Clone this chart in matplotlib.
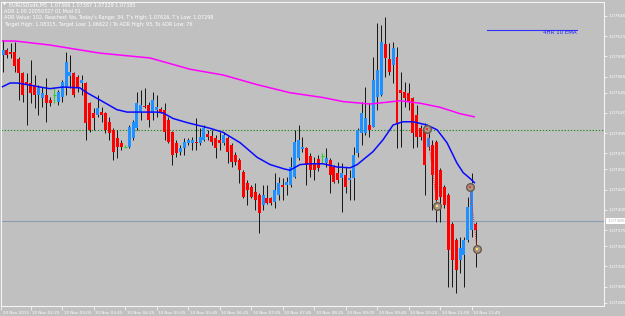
import matplotlib
matplotlib.use("Agg")
import matplotlib.pyplot as plt
from matplotlib.transforms import ScaledTranslation, blended_transform_factory

# ---------------- data (EURUSD M5) ----------------
opens = [1.07592, 1.07598, 1.07595, 1.07595, 1.07587, 1.07569, 1.07558, 1.07557, 1.07555, 1.07542,
         1.07538, 1.07542, 1.07536, 1.07542, 1.07534, 1.07540, 1.07552, 1.07566, 1.07569, 1.07564,
         1.07557, 1.07557, 1.07532, 1.07520, 1.07517, 1.07521, 1.07520, 1.07509, 1.07499, 1.07489,
         1.07483, 1.07478, 1.07478, 1.07489, 1.07501, 1.07521, 1.07529, 1.07530, 1.07520, 1.07524,
         1.07525, 1.07524, 1.07511, 1.07496, 1.07483, 1.07472, 1.07477, 1.07483, 1.07483, 1.07484,
         1.07483, 1.07486, 1.07494, 1.07491, 1.07489, 1.07486, 1.07483, 1.07489, 1.07480, 1.07468,
         1.07462, 1.07447, 1.07433, 1.07428, 1.07422, 1.07418, 1.07406, 1.07415, 1.07415, 1.07410,
         1.07418, 1.07431, 1.07431, 1.07431, 1.07441, 1.07464, 1.07475, 1.07477, 1.07467, 1.07458,
         1.07463, 1.07467, 1.07458, 1.07462, 1.07453, 1.07446, 1.07439, 1.07443, 1.07437, 1.07439,
         1.07470, 1.07495, 1.07495, 1.07505, 1.07503, 1.07540, 1.07542, 1.07605, 1.07587, 1.07579,
         1.07589, 1.07548, 1.07546, 1.07545, 1.07538, 1.07517, 1.07501, 1.07501, 1.07478, 1.07480,
         1.07484, 1.07449, 1.07428, 1.07418, 1.07383, 1.07363, 1.07338, 1.07344, 1.07363, 1.07375,
         1.07383]
highs = [1.07610, 1.07600, 1.07607, 1.07608, 1.07589, 1.07571, 1.07569, 1.07586, 1.07567, 1.07555,
         1.07552, 1.07563, 1.07540, 1.07552, 1.07548, 1.07561, 1.07595, 1.07592, 1.07571, 1.07567,
         1.07567, 1.07558, 1.07534, 1.07526, 1.07542, 1.07527, 1.07521, 1.07515, 1.07501, 1.07499,
         1.07486, 1.07480, 1.07505, 1.07511, 1.07546, 1.07548, 1.07551, 1.07534, 1.07546, 1.07542,
         1.07527, 1.07532, 1.07515, 1.07497, 1.07486, 1.07480, 1.07489, 1.07489, 1.07490, 1.07514,
         1.07501, 1.07505, 1.07499, 1.07499, 1.07493, 1.07496, 1.07496, 1.07491, 1.07483, 1.07472,
         1.07464, 1.07449, 1.07437, 1.07431, 1.07433, 1.07421, 1.07431, 1.07431, 1.07416, 1.07446,
         1.07441, 1.07439, 1.07441, 1.07465, 1.07499, 1.07505, 1.07490, 1.07478, 1.07470, 1.07465,
         1.07468, 1.07470, 1.07477, 1.07464, 1.07456, 1.07459, 1.07458, 1.07453, 1.07449, 1.07478,
         1.07501, 1.07534, 1.07552, 1.07532, 1.07589, 1.07631, 1.07629, 1.07639, 1.07607, 1.07608,
         1.07602, 1.07571, 1.07558, 1.07557, 1.07540, 1.07530, 1.07505, 1.07508, 1.07495, 1.07486,
         1.07486, 1.07452, 1.07431, 1.07421, 1.07385, 1.07365, 1.07366, 1.07366, 1.07416, 1.07446,
         1.07385]
lows = [1.07571, 1.07588, 1.07588, 1.07571, 1.07536, 1.07534, 1.07505, 1.07532, 1.07526, 1.07517,
        1.07527, 1.07509, 1.07529, 1.07532, 1.07530, 1.07534, 1.07542, 1.07551, 1.07540, 1.07546,
        1.07542, 1.07486, 1.07496, 1.07499, 1.07515, 1.07509, 1.07495, 1.07486, 1.07462, 1.07464,
        1.07474, 1.07477, 1.07477, 1.07486, 1.07499, 1.07511, 1.07526, 1.07503, 1.07511, 1.07515,
        1.07520, 1.07486, 1.07483, 1.07456, 1.07465, 1.07468, 1.07468, 1.07480, 1.07474, 1.07474,
        1.07480, 1.07485, 1.07486, 1.07480, 1.07464, 1.07474, 1.07480, 1.07458, 1.07453, 1.07456,
        1.07433, 1.07415, 1.07406, 1.07415, 1.07400, 1.07371, 1.07400, 1.07407, 1.07406, 1.07402,
        1.07412, 1.07412, 1.07418, 1.07428, 1.07440, 1.07462, 1.07472, 1.07431, 1.07441, 1.07437,
        1.07448, 1.07458, 1.07453, 1.07421, 1.07433, 1.07433, 1.07397, 1.07421, 1.07412, 1.07412,
        1.07465, 1.07480, 1.07493, 1.07490, 1.07502, 1.07524, 1.07541, 1.07564, 1.07567, 1.07557,
        1.07477, 1.07478, 1.07527, 1.07524, 1.07477, 1.07478, 1.07486, 1.07418, 1.07474, 1.07400,
        1.07385, 1.07385, 1.07402, 1.07304, 1.07304, 1.07297, 1.07322, 1.07304, 1.07360, 1.07366,
        1.07329]
closes = [1.07598, 1.07592, 1.07593, 1.07578, 1.07569, 1.07542, 1.07555, 1.07545, 1.07542, 1.07551,
          1.07545, 1.07532, 1.07532, 1.07542, 1.07546, 1.07558, 1.07583, 1.07571, 1.07542, 1.07551,
          1.07561, 1.07508, 1.07499, 1.07514, 1.07526, 1.07517, 1.07499, 1.07495, 1.07472, 1.07478,
          1.07478, 1.07478, 1.07503, 1.07509, 1.07532, 1.07530, 1.07527, 1.07511, 1.07536, 1.07527,
          1.07521, 1.07496, 1.07484, 1.07468, 1.07470, 1.07477, 1.07484, 1.07486, 1.07486, 1.07483,
          1.07490, 1.07501, 1.07490, 1.07484, 1.07477, 1.07483, 1.07493, 1.07472, 1.07459, 1.07459,
          1.07449, 1.07416, 1.07425, 1.07416, 1.07412, 1.07396, 1.07418, 1.07408, 1.07408, 1.07425,
          1.07433, 1.07428, 1.07435, 1.07453, 1.07484, 1.07486, 1.07478, 1.07456, 1.07449, 1.07449,
          1.07452, 1.07467, 1.07464, 1.07443, 1.07435, 1.07437, 1.07446, 1.07428, 1.07439, 1.07468,
          1.07499, 1.07520, 1.07514, 1.07499, 1.07561, 1.07573, 1.07608, 1.07588, 1.07571, 1.07600,
          1.07508, 1.07545, 1.07538, 1.07534, 1.07495, 1.07490, 1.07490, 1.07456, 1.07489, 1.07443,
          1.07412, 1.07416, 1.07406, 1.07350, 1.07338, 1.07326, 1.07353, 1.07363, 1.07403, 1.07433,
          1.07375]

# 4HR 10 EMA (blue) sampled along the line: bar position, price
ema_bars = [-0.3, 1.8, 3.6, 6.1, 9.4, 11.9, 15.2, 19.5, 21.3, 24.6, 28.9, 31.5, 39.1, 40.6, 43.2,
            46.7, 50.0, 52.5, 55.8, 60.2, 64.5, 67.8, 71.1, 72.8, 75.4, 77.9, 81.2, 84.8, 88.1,
            89.9, 91.4, 93.9, 96.5, 99.0, 101.5, 104.1, 107.6, 110.2, 112.7, 115.2, 116.8, 118.5, 119.8]
ema_vals = [1.07552, 1.07557, 1.07557, 1.07555, 1.07552, 1.07550, 1.07552, 1.07551, 1.07545, 1.07536,
            1.07524, 1.07521, 1.07521, 1.07520, 1.07513, 1.07508, 1.07504, 1.07501, 1.07496, 1.07483,
            1.07465, 1.07456, 1.07451, 1.07449, 1.07456, 1.07457, 1.07457, 1.07453, 1.07452, 1.07456,
            1.07462, 1.07472, 1.07487, 1.07505, 1.07509, 1.07509, 1.07505, 1.07499, 1.07483, 1.07458,
            1.07446, 1.07439, 1.07433]

# slow moving average (magenta)
ma_bars = [-0.3, 3.1, 11.9, 24.6, 37.3, 47.5, 55.8, 64.5, 72.8, 81.2, 86.3, 93.2, 100.8, 105.8,
           110.9, 116.0, 119.8]
ma_vals = [1.07609, 1.07609, 1.07604, 1.07594, 1.07588, 1.07574, 1.07567, 1.07555, 1.07545, 1.07539,
           1.07534, 1.07531, 1.07535, 1.07532, 1.07527, 1.07519, 1.07515]

level_green = 1.07499
bid_price = 1.07386
bid_label = "1.07385"

# trades (open -> close)
trade_open_bars = [107.6, 118.5]
trade_open_prices = [1.07500, 1.07428]
trade_close_bars = [110.2, 120.3]
trade_close_prices = [1.07405, 1.07352]

time_label_bars = [-0.4, 7, 15, 23, 31, 39, 47, 55, 63, 71, 79, 87, 95, 103, 111, 119]
time_labels = ["10 Nov 2015", "10 Nov 02:25", "10 Nov 03:05", "10 Nov 03:45", "10 Nov 04:25",
               "10 Nov 05:05", "10 Nov 05:45", "10 Nov 06:25", "10 Nov 07:05", "10 Nov 07:45",
               "10 Nov 08:25", "10 Nov 09:05", "10 Nov 09:45", "10 Nov 10:25", "10 Nov 11:05",
               "10 Nov 11:45"]
price_ticks = [1.07640, 1.07615, 1.07590, 1.07565, 1.07545, 1.07520, 1.07495, 1.07470, 1.07450,
               1.07425, 1.07400, 1.07375, 1.07355, 1.07330, 1.07305, 1.07285]

header_lines = [
    "EURUSDxdk,M5  1.07366 1.07387 1.07329 1.07385",
    "ADR 1.00 20050327 01 Mod 01",
    "ADR Value: 102, Reached: No, Today's Range: 34, T's High: 1.07626, T's Low: 1.07298",
    "Target High: 1.08315, Target Low: 1.06622 / To ADR High: 93, To ADR Low: 76",
]
legend_text = "4HR 10 EMA"

# ---------------- drawing ----------------
W, H = 625, 316
BG = "#c0c0c0"
BULL = "#1e90ff"
BEAR = "#ff0000"
DOJI = "#32cd32"
plt.rcParams["font.family"] = ["DejaVu Sans"]

fig = plt.figure(figsize=(W / 100, H / 100), dpi=100, facecolor=BG)
ax = fig.add_axes([1 / W, 10 / H, 603 / W, 304 / H], facecolor=BG)
ax.set_xlim(-0.51, 152.54)
ax.set_ylim(1.072809, 1.076573)

# reference lines
ax.axhline(level_green, color="#1f8a1f", lw=0.8, ls=(0, (1.2, 1.6)), zorder=1)
ax.axhline(bid_price, color="#8d9db0", lw=0.8, zorder=1)

# candles
for i, (o, h, l, c) in enumerate(zip(opens, highs, lows, closes)):
    if o == c:
        ax.vlines(i, l, h, color=DOJI, lw=0.8, zorder=3)
        ax.hlines(o, i - 0.38, i + 0.38, color=DOJI, lw=0.8, zorder=3)
        continue
    ax.vlines(i, l, h, color="#151515", lw=0.7, zorder=2)
    col = BULL if c > o else BEAR
    bottom = min(o, c)
    height = max(abs(c - o), 0.000012)
    ax.bar(i, height, bottom=bottom, width=0.76, color=col, linewidth=0, zorder=3)

# indicator lines
ax.plot(ma_bars, ma_vals, color="#ff00ff", lw=1.1, zorder=4, solid_capstyle="butt")
ax.plot(ema_bars, ema_vals, color="#0a0aff", lw=1.1, zorder=4, solid_capstyle="butt")

# trades
for ob, op, cb, cp in zip(trade_open_bars, trade_open_prices, trade_close_bars, trade_close_prices):
    ax.plot([ob, cb], [op, cp], color="#ff2020", lw=0.7, ls=(0, (1, 1.2)), zorder=5)
    ax.scatter([ob, cb], [op, cp], s=30, facecolor="#a89686", edgecolor="#6a5a4c",
               linewidth=1.0, zorder=6)
    ax.scatter([ob], [op], s=3, marker="s", color="#ff3030", zorder=7, linewidth=0)
    ax.scatter([cb], [cp], s=3, marker="s", color="#ffe070", zorder=7, linewidth=0)

# spines
for sp in ax.spines.values():
    sp.set_color("#f4f4f4")
    sp.set_linewidth(0.8)

# y axis (right)
ax.yaxis.tick_right()
ax.set_yticks(price_ticks)
ax.set_yticklabels([f"{p:.5f}" for p in price_ticks])
ax.tick_params(axis="y", length=2, width=0.6, color="#f4f4f4", labelcolor="#ffffff",
               labelsize=3.1, pad=1)

# x axis
ax.set_xticks(time_label_bars)
ax.set_xticklabels(time_labels)
ax.tick_params(axis="x", length=3, width=0.6, color="#f4f4f4", labelcolor="#ffffff",
               labelsize=3.0, pad=0.3, direction="out")
off = ScaledTranslation(1.5 / 100, 0, fig.dpi_scale_trans)
for lab in ax.get_xticklabels():
    lab.set_horizontalalignment("left")
    lab.set_transform(lab.get_transform() + off)

# current price label
bt = blended_transform_factory(ax.transAxes, ax.transData)
ax.text(1.0 + 3 / 603, bid_price, bid_label, transform=bt, fontsize=3.1, color="#b4b4b4",
        va="center", ha="left", zorder=10,
        bbox=dict(boxstyle="square,pad=0.25", facecolor="white", edgecolor="none"))

# header text
def px(x, y):
    return x / W, 1 - y / H

fig.text(*px(3, 5), "\u25bc", fontsize=3.0, color="white", va="center", ha="left")
fig.text(*px(9, 5), header_lines[0], fontsize=3.5, color="white", va="center", ha="left")
for k, line in enumerate(header_lines[1:]):
    fig.text(*px(4, 11.6 + 6.3 * k), line, fontsize=3.5, color="white", va="center", ha="left")

# legend line + label
fig.add_artist(plt.Line2D([487 / W, 577 / W], [1 - 29.5 / H, 1 - 29.5 / H], color="#3030ff", lw=0.8))
fig.text(*px(577, 32.5), legend_text, fontsize=4.0, color="#2020ff", va="center", ha="right")

fig.savefig("out.png", dpi=100, facecolor=BG)
